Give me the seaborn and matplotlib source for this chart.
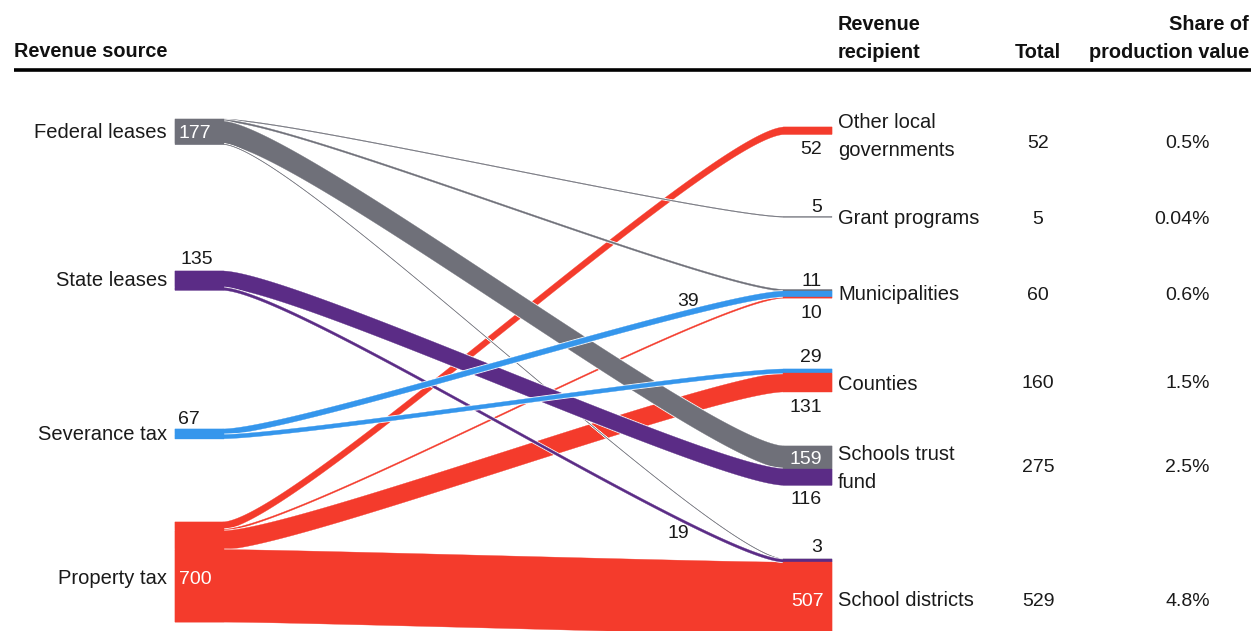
import numpy as np
import matplotlib
matplotlib.use("Agg")
import matplotlib.pyplot as plt
import matplotlib.patheffects as pe
import seaborn as sns

# data
sources = ["Federal leases", "State leases", "Severance tax", "Property tax"]
source_totals = [177, 135, 67, 700]
recipients = ["Other local\ngovernments", "Grant programs", "Municipalities",
              "Counties", "Schools trust\nfund", "School districts"]
recipient_totals = [52, 5, 60, 160, 275, 529]
recipient_share = ["0.5%", "0.04%", "0.6%", "1.5%", "2.5%", "4.8%"]

flow_src = [0, 0, 0, 0, 1, 1, 2, 2, 3, 3, 3, 3]
flow_dst = [1, 2, 4, 5, 4, 5, 2, 3, 0, 2, 3, 5]
flow_val = [5, 11, 159, 3, 116, 19, 39, 29, 52, 10, 131, 507]

# layout (pixel space)
W, H = 1251, 631
SCALE = 0.143          # px per unit
SRC_X0, SRC_X1 = 175, 222
DST_X0, DST_X1 = 785, 832
K = 70                 # bezier handle length
DY = 2                 # text nudge
src_top = [119, 271, 429, 522]
dst_top = [127, 216.5, 289.5, 369, 446, 559]

colors = sns.color_palette(["#6f7079", "#5b2c86", "#3596ec", "#f43b2c"])

sns.set_theme(style="white")
plt.rcParams["font.family"] = ["Liberation Sans", "DejaVu Sans"]

fig = plt.figure(figsize=(W / 100, H / 100), dpi=100)
ax = fig.add_axes([0, 0, 1, 1])
ax.set_xlim(0, W)
ax.set_ylim(H, 0)
ax.axis("off")

# stack flows at sources (by recipient order) and recipients (by source order)
n = len(flow_val)
y_src = [0.0] * n
y_dst = [0.0] * n
cur = list(src_top)
for i in sorted(range(n), key=lambda i: (flow_src[i], flow_dst[i])):
    y_src[i] = cur[flow_src[i]]
    cur[flow_src[i]] += flow_val[i] * SCALE
cur = list(dst_top)
for i in sorted(range(n), key=lambda i: (flow_dst[i], flow_src[i])):
    y_dst[i] = cur[flow_dst[i]]
    cur[flow_dst[i]] += flow_val[i] * SCALE

t = np.linspace(0, 1, 300)


def bezier(a, b, c, d):
    return (1 - t) ** 3 * a + 3 * (1 - t) ** 2 * t * b + 3 * (1 - t) * t ** 2 * c + t ** 3 * d


bx = np.concatenate([[SRC_X0], bezier(SRC_X1, SRC_X1 + K, DST_X0 - K, DST_X0), [DST_X1]])

halo = [pe.Stroke(linewidth=1.4, foreground="white"), pe.Normal()]
draw_order = [3, 0, 1, 2]
for s in draw_order:
    for i in range(n):
        if flow_src[i] != s:
            continue
        w = flow_val[i] * SCALE
        y0, y1 = y_src[i], y_dst[i]
        top = np.concatenate([[y0], bezier(y0, y0, y1, y1), [y1]])
        pc = ax.fill_between(bx, top, top + w, color=colors[s], lw=0.25, zorder=2)
        pc.set_path_effects(halo)

# flat node ends on top (hide halos inside the blocks)
for i in range(n):
    w = flow_val[i] * SCALE
    c = colors[flow_src[i]]
    ax.fill_between([SRC_X0, SRC_X1 + 2], y_src[i], y_src[i] + w, color=c, lw=0.25, zorder=3)
    ax.fill_between([DST_X0 - 2, DST_X1], y_dst[i], y_dst[i] + w, color=c, lw=0.25, zorder=3)

# header
txt = dict(color="#1a1a1a", fontsize=14.5, zorder=5)
num = dict(color="#1a1a1a", fontsize=14, zorder=5)
hdr = dict(color="#111111", fontsize=14.3, fontweight="bold", va="baseline", zorder=5)
ax.plot([14, W], [70, 70], color="black", lw=2.6, solid_capstyle="butt")
ax.text(14, 57, "Revenue source", ha="left", **hdr)
ax.text(838, 30, "Revenue", ha="left", **hdr)
ax.text(838, 58, "recipient", ha="left", **hdr)
ax.text(1038, 58, "Total", ha="center", **hdr)
ax.text(1249, 30, "Share of", ha="right", **hdr)
ax.text(1249, 58, "production value", ha="right", **hdr)

# source labels
src_label_y = [131, 279, 433, 577]
for name, y in zip(sources, src_label_y):
    ax.text(167, y + DY, name, ha="right", va="center", **txt)
src_value_pos = [(178, 131, "white"), (181, 258, "#1a1a1a"),
                 (178, 418, "#1a1a1a"), (179, 577, "white")]
for v, (x, y, c) in zip(source_totals, src_value_pos):
    ax.text(x, y + DY, f"{v}", ha="left", va="center", fontsize=14, color=c, zorder=5)

# recipient labels, totals and shares
dst_label_y = [134, 217, 293, 382, 466, 599]
dst_total_y = [142, 217, 293, 381, 466, 599]
for name, tot, sh, y, ty in zip(recipients, recipient_totals, recipient_share,
                                dst_label_y, dst_total_y):
    ax.text(838, y + DY, name, ha="left", va="center", linespacing=1.6, **txt)
    ax.text(1038, ty + DY, f"{tot}", ha="center", va="center", **num)
    ax.text(1210, ty + DY, sh, ha="right", va="center", **num)

# flow value labels
flow_label_pos = [(822, 205, "right", "#1a1a1a"), (822, 279, "right", "#1a1a1a"),
                  (822, 457, "right", "white"), (822, 546, "right", "#1a1a1a"),
                  (822, 498, "right", "#1a1a1a"), (678, 532, "center", "#1a1a1a"),
                  (688, 299, "center", "#1a1a1a"), (822, 356, "right", "#1a1a1a"),
                  (822, 148, "right", "#1a1a1a"), (822, 312, "right", "#1a1a1a"),
                  (822, 406, "right", "#1a1a1a"), (824, 599, "right", "white")]
for v, (x, y, ha, c) in zip(flow_val, flow_label_pos):
    ax.text(x, y + DY, f"{v}", ha=ha, va="center", fontsize=14, color=c, zorder=5)

fig.savefig("out.png", dpi=100)
